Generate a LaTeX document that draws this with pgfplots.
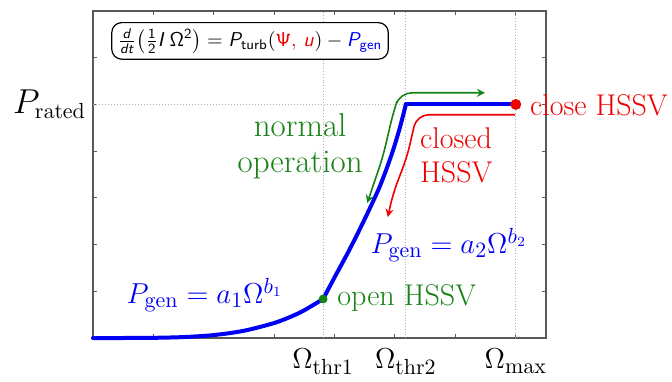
\documentclass[border=0pt]{standalone}
\usepackage{pgfplots}
\pgfplotsset{compat=1.18}
\DeclareMathAlphabet{\mathsfit}{OT1}{cmss}{m}{sl}
\DeclareMathAlphabet{\mathsfup}{OT1}{cmss}{m}{n}
\definecolor{opgreen}{RGB}{20,130,20}
\definecolor{hssvred}{RGB}{240,0,0}
\definecolor{gencol}{RGB}{0,0,245}
\newcommand{\lblfont}{\fontsize{15}{17}\selectfont}
\begin{document}
\begin{tikzpicture}
\useasboundingbox (-46.5pt,-21.5pt) rectangle (289.5pt,169pt);
\begin{axis}[
  scale only axis,
  width=226.5pt, height=163.5pt,
  xmin=0, xmax=7.5, ymin=0, ymax=7,
  xtick={1,...,7}, ytick={1,...,7},
  xticklabels={}, yticklabels={},
  major tick length=2pt,
  tick style={gray!70!black, line width=0.5pt},
  axis line style={gray!70!black, line width=0.7pt},
  extra x ticks={3.81,5.18,7},
  extra x tick labels={$\Omega_{\mathrm{thr1}}$,$\Omega_{\mathrm{thr2}}$,$\Omega_{\max}$},
  extra x tick style={grid=major, major tick length=0pt,
    major grid style={gray!60, densely dotted, line width=0.5pt},
    tick label style={font=\fontsize{15}{17}\selectfont, yshift=-2pt}},
  extra y ticks={5},
  extra y tick labels={$P_{\mathrm{rated}}$},
  extra y tick style={major tick length=0pt,
    tick label style={font=\fontsize{16}{18}\selectfont}},
  clip=false,
]
% rated power level
\draw[gray!60, densely dotted, line width=0.5pt] (axis cs:0,5) -- (axis cs:5.18,5);

% generator power curve, first stage
\addplot[gencol, line width=2pt, smooth, line cap=round] coordinates {
  (0,0) (0.5,0.0002) (1,0.004) (1.5,0.02) (2,0.063) (2.5,0.155)
  (3,0.321) (3.3,0.47) (3.5,0.595) (3.81,0.835)
};
% second stage
\addplot[gencol, line width=2pt, smooth, tension=0.5, line cap=round] coordinates {
  (3.81,0.835) (4.0,1.30) (4.25,1.90) (4.5,2.55) (4.75,3.25)
  (4.95,3.95) (5.08,4.50) (5.18,5.0)
};
% rated plateau
\addplot[gencol, line width=2pt, line cap=round] coordinates {(5.18,5) (7,5)};

% operating paths
\draw[opgreen, line width=0.8pt, rounded corners=6pt, <->, >=stealth]
  (axis cs:4.54,2.89) -- (axis cs:4.80,3.88) -- (axis cs:4.97,4.82)
  -- (axis cs:5.08,5.25) -- (axis cs:6.49,5.25);
\draw[hssvred, line width=0.8pt, rounded corners=6pt, ->, >=stealth]
  (axis cs:6.99,4.78) -- (axis cs:5.36,4.78) -- (axis cs:5.20,3.88)
  -- (axis cs:4.97,3.10) -- (axis cs:4.88,2.59);

% valve switching points
\addplot[only marks, mark=*, mark size=2pt, opgreen] coordinates {(3.81,0.835)};
\addplot[only marks, mark=*, mark size=2.5pt, hssvred] coordinates {(7,5)};

% annotations
\node[gencol, font=\lblfont] at (axis cs:1.85,0.92)
  {$P_{\mathrm{gen}} = a_1\Omega^{b_1}$};
\node[gencol, font=\lblfont] at (axis cs:5.89,1.99)
  {$P_{\mathrm{gen}} = a_2\Omega^{b_2}$};
\node[opgreen, anchor=west, inner sep=0pt, font=\lblfont] at (axis cs:4.04,0.86)
  {open HSSV};
\node[hssvred, anchor=west, inner sep=0pt, font=\lblfont] at (axis cs:7.23,4.98)
  {close HSSV};
\node[hssvred, anchor=west, inner sep=0pt, align=left, font=\fontsize{15}{17}\selectfont]
  at (axis cs:5.41,3.9) {closed\\HSSV};
\node[opgreen, align=center, font=\fontsize{16.5}{18}\selectfont] at (axis cs:3.43,4.11)
  {normal\\operation};

% energy balance
\node[draw=black, rounded corners=5pt, line width=0.6pt, fill=white, inner sep=3pt,
      font=\fontsize{10}{12}\selectfont] at (axis cs:2.6,6.36)
  {$\frac{\mathsfit{d}}{\mathsfit{dt}}\bigl(\frac{\mathsfup{1}}{\mathsfup{2}}\mathsfit{I}\,\mathsfup{\Omega}^{\mathsfup{2}}\bigr)
   = \mathsfit{P}_{\mathsfup{turb}}(\textcolor{hssvred}{\mathsfup{\Psi},\, \mathsfit{u}})
   - \textcolor{gencol}{\mathsfit{P}_{\mathsfup{gen}}}$};
\end{axis}
\end{tikzpicture}
\end{document}
